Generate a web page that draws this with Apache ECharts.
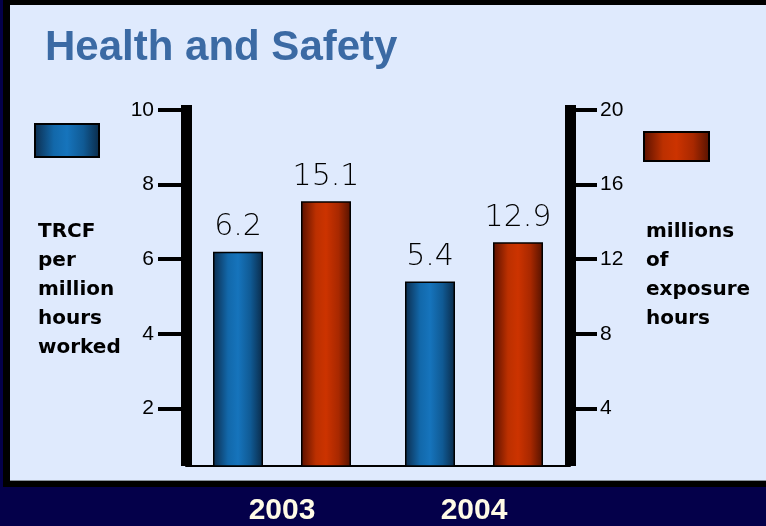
<!DOCTYPE html>
<html>
<head>
<meta charset="utf-8">
<script src="https://cdn.jsdelivr.net/npm/echarts@6/dist/echarts.min.js"></script>
<style>
  html, body { margin: 0; padding: 0; background: #04004a; }
  #chart { width: 766px; height: 526px; }
</style>
</head>
<body>
<div id="chart"></div>
<script>
// Chart data
const years = ['2003', '2004'];
const trcfRate = [6.2, 5.4];          // TRCF per million hours worked (left axis)
const exposureHours = [15.1, 12.9];   // millions of exposure hours (right axis)
const leftTicks = [2, 4, 6, 8, 10];
const rightTicks = [4, 8, 12, 16, 20];
const leftCaption = ['TRCF', 'per', 'million', 'hours', 'worked'];
const rightCaption = ['millions', 'of', 'exposure', 'hours'];

const blueFill = new echarts.graphic.LinearGradient(0, 0, 1, 0, [
  { offset: 0, color: '#0c2c4c' },
  { offset: 0.3, color: '#1268aa' },
  { offset: 0.5, color: '#1674bc' },
  { offset: 0.75, color: '#105a94' },
  { offset: 1, color: '#0a2a48' }
]);
const redFill = new echarts.graphic.LinearGradient(0, 0, 1, 0, [
  { offset: 0, color: '#581000' },
  { offset: 0.3, color: '#bc3000' },
  { offset: 0.5, color: '#cc3300' },
  { offset: 0.75, color: '#a82800' },
  { offset: 1, color: '#541200' }
]);

const chart = echarts.init(document.getElementById('chart'), null, { renderer: 'canvas' });

const valueLabel = {
  show: true,
  position: 'top',
  distance: 9,
  color: '#000000',
  fontFamily: 'DejaVu Sans',
  fontWeight: 300,
  fontSize: 30
};

const axisLabelStyle = {
  color: '#000000',
  fontFamily: 'Liberation Sans, Arial, sans-serif',
  fontSize: 21
};

chart.setOption({
  backgroundColor: '#04004a',
  animation: false,
  title: {
    text: 'Health and Safety',
    left: 45,
    top: 27,
    padding: 0,
    textStyle: {
      color: '#3b6aa4',
      fontFamily: 'Liberation Sans, Arial, sans-serif',
      fontWeight: 'bold',
      fontSize: 42
    }
  },
  grid: { left: 186, right: 196, top: 105, bottom: 58 },
  xAxis: {
    type: 'category',
    data: years,
    axisLine: { show: true, lineStyle: { color: '#000000', width: 2 } },
    axisTick: { show: false },
    axisLabel: {
      margin: 30,
      color: '#fffbe6',
      fontFamily: 'Liberation Sans, Arial, sans-serif',
      fontWeight: 'bold',
      fontSize: 30
    }
  },
  yAxis: [
    {
      type: 'value',
      position: 'left',
      min: 0.453,
      max: 10.133,
      splitLine: { show: false },
      axisLine: { show: true, lineStyle: { color: '#000000', width: 11, cap: 'butt' } },
      axisTick: {
        show: true,
        customValues: leftTicks,
        length: 28,
        lineStyle: { color: '#000000', width: 4, cap: 'butt' }
      },
      axisLabel: Object.assign({ customValues: leftTicks, margin: 32 }, axisLabelStyle)
    },
    {
      type: 'value',
      position: 'right',
      min: 0.907,
      max: 20.267,
      splitLine: { show: false },
      axisLine: { show: true, lineStyle: { color: '#000000', width: 11, cap: 'butt' } },
      axisTick: {
        show: true,
        customValues: rightTicks,
        length: 27,
        lineStyle: { color: '#000000', width: 4, cap: 'butt' }
      },
      axisLabel: Object.assign({ customValues: rightTicks, margin: 30 }, axisLabelStyle)
    }
  ],
  series: [
    {
      name: 'TRCF',
      type: 'bar',
      yAxisIndex: 0,
      data: trcfRate,
      barWidth: 50,
      barGap: '76%',
      clip: true,
      itemStyle: { color: blueFill, borderColor: '#000000', borderWidth: 1.5 },
      label: valueLabel
    },
    {
      name: 'Exposure hours',
      type: 'bar',
      yAxisIndex: 1,
      data: exposureHours,
      barWidth: 50,
      barGap: '76%',
      clip: true,
      itemStyle: { color: redFill, borderColor: '#000000', borderWidth: 1.5 },
      label: valueLabel
    }
  ],
  graphic: [
    // frame and panel
    { type: 'rect', z: -20, silent: true, shape: { x: 3, y: 0, width: 763, height: 487 }, style: { fill: '#000000' } },
    { type: 'rect', z: -19, silent: true, shape: { x: 10, y: 5, width: 756, height: 476 }, style: { fill: '#dfeafd' } },
    { type: 'line', z: -18, silent: true, shape: { x1: 10, y1: 480.5, x2: 766, y2: 480.5 }, style: { stroke: '#8a929c', lineWidth: 1 } },
    // legend swatches
    { type: 'rect', z: 5, shape: { x: 35, y: 124, width: 64, height: 33 }, style: { fill: blueFill, stroke: '#000000', lineWidth: 2 } },
    { type: 'rect', z: 5, shape: { x: 644, y: 132, width: 65, height: 29 }, style: { fill: redFill, stroke: '#000000', lineWidth: 2 } },
    // axis captions
    {
      type: 'text', z: 5, left: 38, top: 217,
      style: {
        text: leftCaption.join('\n'),
        fill: '#000000',
        font: 'bold 20px "DejaVu Sans", sans-serif',
        lineHeight: 29
      }
    },
    {
      type: 'text', z: 5, left: 646, top: 217,
      style: {
        text: rightCaption.join('\n'),
        fill: '#000000',
        font: 'bold 20px "DejaVu Sans", sans-serif',
        lineHeight: 29
      }
    }
  ]
});
</script>
</body>
</html>
